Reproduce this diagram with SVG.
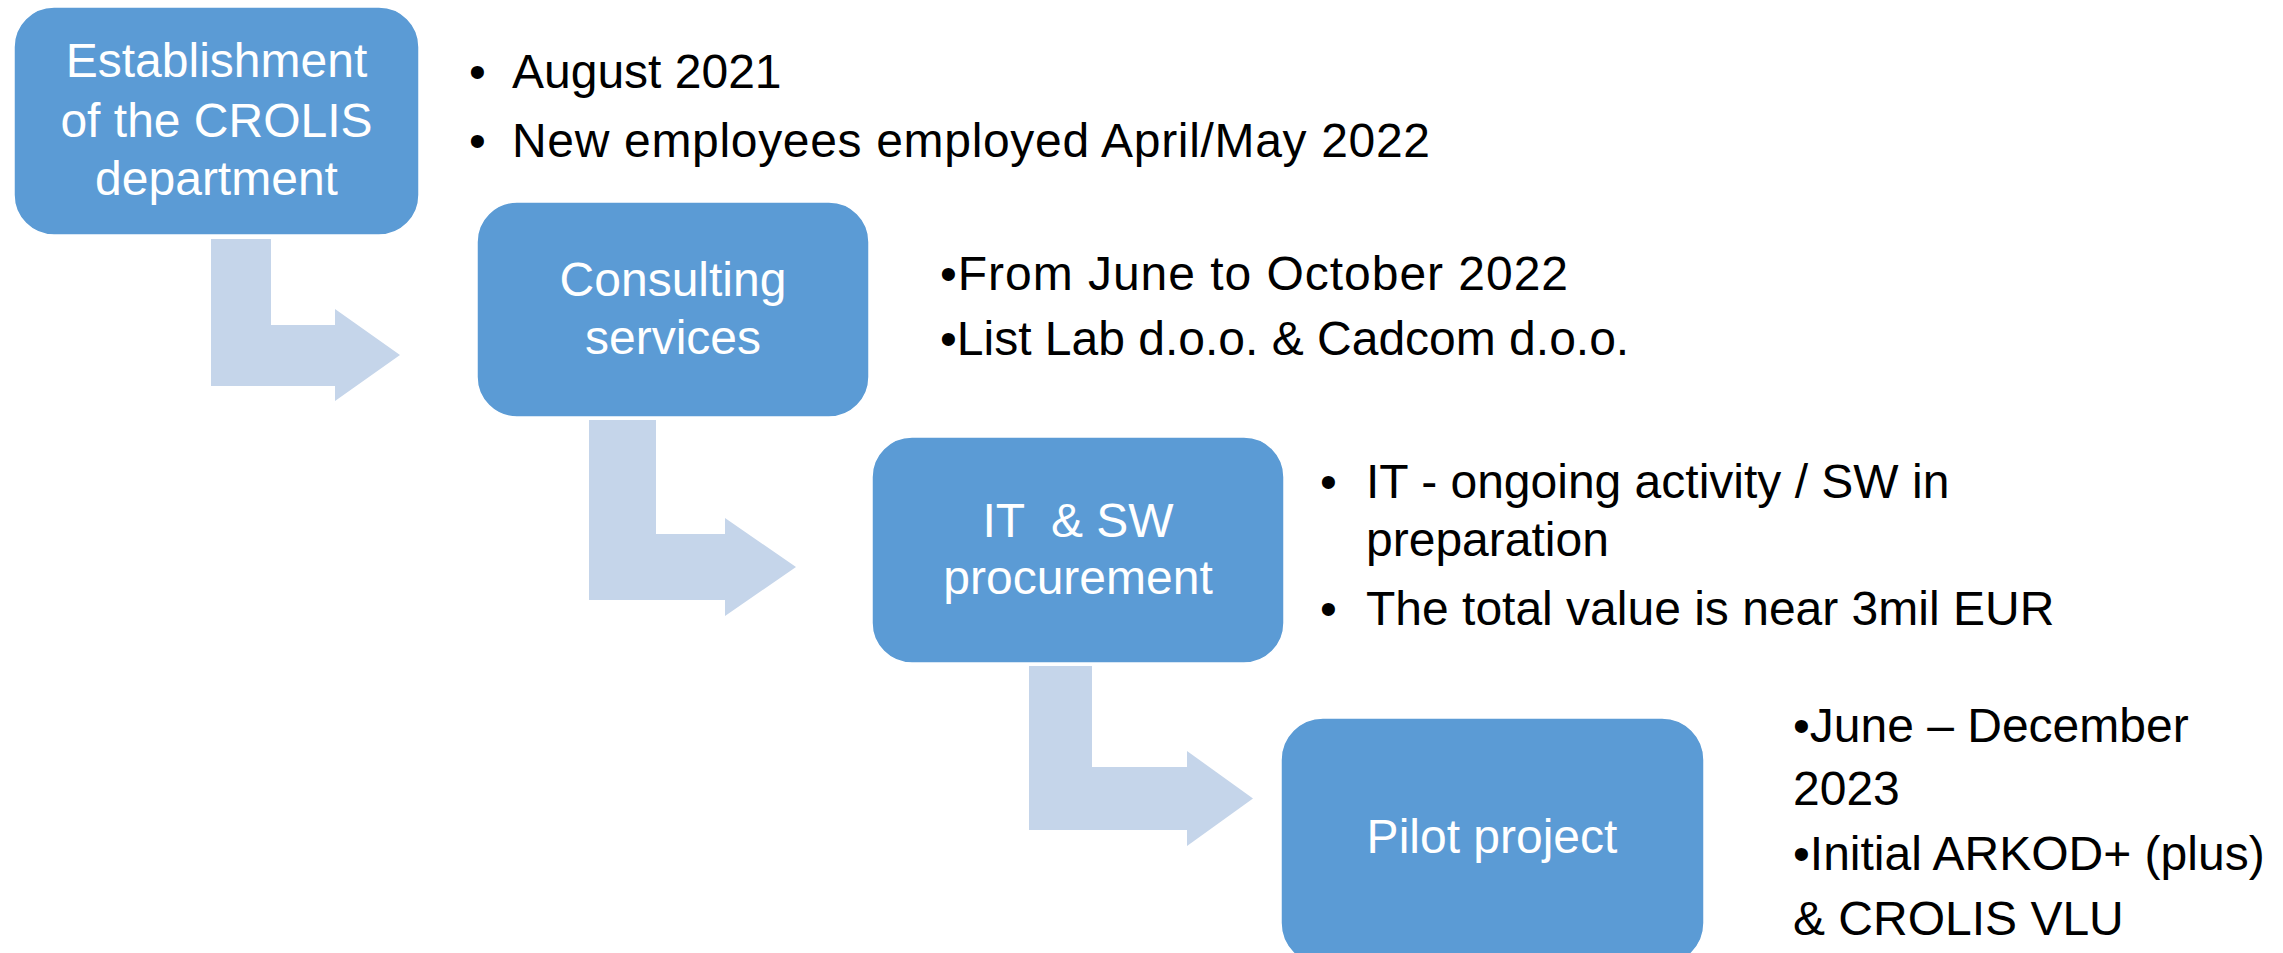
<svg xmlns="http://www.w3.org/2000/svg" width="2283" height="953" viewBox="0 0 2283 953">
<style>
.box{fill:#5B9BD5;stroke:#FFFFFF;stroke-width:1.5}
.bt{font-family:"Liberation Sans",Arial,sans-serif;font-size:48px;fill:#FFFFFF;text-anchor:middle}
.tx{font-family:"Liberation Sans",Arial,sans-serif;font-size:48px;fill:#000000}
.arr{fill:#C5D5EA}
</style>
<rect width="2283" height="953" fill="#FFFFFF"/>
<g id="connectors">
<polygon class="arr" points="211,239 271,239 271,325 335,325 335,309 400,355 335,401 335,386 211,386"/>
<polygon class="arr" points="589,420 656,420 656,534 725,534 725,518 796,567 725,616 725,600 589,600"/>
<polygon class="arr" points="1029,666 1092,666 1092,767 1187,767 1187,751 1253,798.5 1187,846 1187,830 1029,830"/>
</g>
<g id="node1">
<rect class="box" x="14" y="7" width="405" height="228" rx="40" ry="40"/>
<text class="bt" x="216.5" y="77">Establishment</text>
<text class="bt" x="216.5" y="137">of the CROLIS</text>
<text class="bt" x="216.5" y="195">department</text>
</g>
<g id="notes1">
<text class="tx" x="469" y="88">•</text>
<text class="tx" x="512" y="88">August 2021</text>
<text class="tx" x="469" y="157">•</text>
<text class="tx" x="512" y="157" textLength="918" lengthAdjust="spacing">New employees employed April/May 2022</text>
</g>
<g id="node2">
<rect class="box" x="477" y="202" width="392" height="215" rx="40" ry="40"/>
<text class="bt" x="673" y="296">Consulting</text>
<text class="bt" x="673" y="354">services</text>
</g>
<g id="notes2">
<text class="tx" x="940" y="290" textLength="628" lengthAdjust="spacing">•From June to October 2022</text>
<text class="tx" x="940" y="355">•List Lab d.o.o. &amp; Cadcom d.o.o.</text>
</g>
<g id="node3">
<rect class="box" x="872" y="437" width="412" height="226" rx="40" ry="40"/>
<text class="bt" x="1078" y="537" style="white-space:pre">IT  &amp; SW</text>
<text class="bt" x="1078" y="594">procurement</text>
</g>
<g id="notes3">
<text class="tx" x="1320" y="498">•</text>
<text class="tx" x="1366" y="498">IT - ongoing activity / SW in</text>
<text class="tx" x="1366" y="556">preparation</text>
<text class="tx" x="1320" y="625">•</text>
<text class="tx" x="1366" y="625">The total value is near 3mil EUR</text>
</g>
<g id="node4">
<rect class="box" x="1281" y="718" width="423" height="247" rx="42" ry="42"/>
<text class="bt" x="1492" y="853">Pilot project</text>
</g>
<g id="notes4">
<text class="tx" x="1793" y="742">•June – December</text>
<text class="tx" x="1793" y="805">2023</text>
<text class="tx" x="1793" y="870">•Initial ARKOD+ (plus)</text>
<text class="tx" x="1793" y="935">&amp; CROLIS VLU</text>
</g>
</svg>
